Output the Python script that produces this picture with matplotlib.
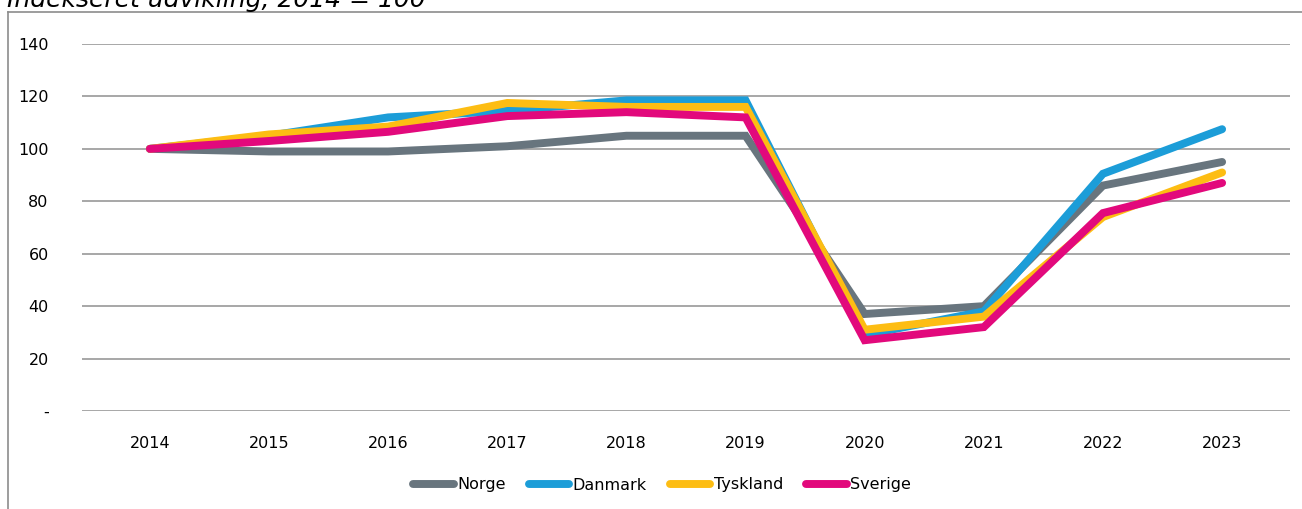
import matplotlib
matplotlib.use("Agg")
import matplotlib.pyplot as plt
from matplotlib.lines import Line2D

years = ["2014", "2015", "2016", "2017", "2018", "2019", "2020", "2021", "2022", "2023"]
norge = [100, 99, 99, 101, 105, 105, 37, 40, 86, 95]
danmark = [100, 105, 112, 114.5, 118.5, 118.5, 29, 38, 90.5, 107.5]
tyskland = [100, 105.5, 108.5, 117.5, 116, 116, 31, 36, 74, 91]
sverige = [100, 103, 106.5, 112.5, 114, 112, 27, 32, 75.5, 87]
series_names = ["Norge", "Danmark", "Tyskland", "Sverige"]
series_values = [norge, danmark, tyskland, sverige]
colors = ["#68757E", "#1C9DD8", "#FDBD13", "#E2097C"]
yticks = [0, 20, 40, 60, 80, 100, 120, 140]
ytick_labels = ["-", "20", "40", "60", "80", "100", "120", "140"]
title = "Indekseret udvikling, 2014 = 100"

plt.rcParams['font.family'] = ['DejaVu Sans']

W, H = 1302, 509
fig = plt.figure(figsize=(W / 100, H / 100), dpi=100)
ax = fig.add_axes([82 / W, 1 - 411 / H, (1290 - 82) / W, (411 - 44) / H])

x = list(range(len(years)))
for name, vals, c in zip(series_names, series_values, colors):
    ax.plot(x, vals, color=c, lw=5.7, solid_capstyle='round', solid_joinstyle='miter',
            label=name, clip_on=False, zorder=3)

ax.set_xlim(-0.57, 9.57)
ax.set_ylim(0, 140)
ax.set_yticks(yticks)
ax.set_yticklabels(ytick_labels)
ax.set_xticks(x)
ax.set_xticklabels(years)
ax.tick_params(axis='both', length=0, labelsize=11.5, colors='#000000')
ax.tick_params(axis='y', pad=24)
ax.tick_params(axis='x', pad=18)
for lab in ax.get_yticklabels():
    lab.set_horizontalalignment('right')
ax.grid(axis='y', color='#A0A0A0', lw=1.3)
ax.set_axisbelow(True)
for s in ax.spines.values():
    s.set_visible(False)

leg = fig.legend(loc='center', bbox_to_anchor=(662 / W, 1 - 485 / H), ncol=4, frameon=False,
                 fontsize=11.5, handlelength=2.55, handletextpad=0.2, columnspacing=1.45)
for h in leg.get_lines():
    h.set_linewidth(5.7)
    h.set_solid_capstyle('round')

fig.text(7 / W, 1 - 7 / H, title, fontsize=18, style='italic', ha='left', va='baseline')

# outer frame (top and left edges)
fig.add_artist(Line2D([8 / W, 1], [1 - 12 / H, 1 - 12 / H], transform=fig.transFigure,
                      color='#8C8C8C', lw=1.2))
fig.add_artist(Line2D([8 / W, 8 / W], [0, 1 - 12 / H], transform=fig.transFigure,
                      color='#8C8C8C', lw=1.2))

fig.savefig("out.png", dpi=100)
